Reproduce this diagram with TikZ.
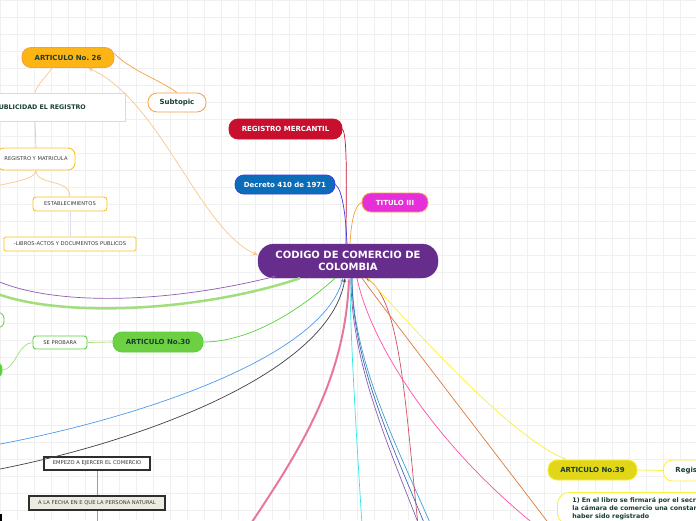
\documentclass[tikz,border=0pt]{standalone}
\usepackage{fontspec}
\setmainfont{DejaVu Sans}
\usetikzlibrary{arrows.meta}
\definecolor{mmText}{HTML}{173F2F}
\definecolor{mmGray}{HTML}{3A3A3A}
\definecolor{mmGrid}{HTML}{F0F0F0}
\definecolor{mmOrange}{HTML}{FDB515}
\definecolor{mmOrangeLine}{HTML}{F5A040}
\definecolor{mmOrangeSoft}{HTML}{FBC68C}
\definecolor{mmAmber}{HTML}{FFC21A}
\definecolor{mmPurple}{HTML}{662D8C}
\definecolor{mmCrimson}{HTML}{C8102E}
\definecolor{mmBlue}{HTML}{0B6DB8}
\definecolor{mmViolet}{HTML}{3B3BF0}
\definecolor{mmMagenta}{HTML}{E62FD8}
\definecolor{mmGreen}{HTML}{6DD043}
\definecolor{mmGreenLine}{HTML}{55D13B}
\definecolor{mmGreenSoft}{HTML}{A3DE7E}
\definecolor{mmLilac}{HTML}{8E5BB5}
\definecolor{mmSky}{HTML}{4C9AF0}
\definecolor{mmRose}{HTML}{E8789B}
\definecolor{mmCyan}{HTML}{2EE8E8}
\definecolor{mmSteel}{HTML}{3D6BB3}
\definecolor{mmLightBlue}{HTML}{3FA0D0}
\definecolor{mmRed}{HTML}{D05060}
\definecolor{mmPink}{HTML}{FF4FA8}
\definecolor{mmBrown}{HTML}{D97B3E}
\definecolor{mmYellow}{HTML}{F8F03A}
\definecolor{mmOlive}{HTML}{E2D619}
\definecolor{mmBeige}{HTML}{EDEAE0}
\definecolor{mmLavender}{HTML}{E2DAEE}
\tikzset{
  topic/.style={rectangle, rounded corners=9pt, draw, line width=0.8pt, align=center, inner sep=0pt, minimum height=20pt, text=mmText, font=\bfseries\fontsize{7}{8}\selectfont},
  central/.style={rectangle, rounded corners=16pt, fill=mmPurple, draw=mmPurple, text=white, align=center, inner sep=0pt, minimum width=180pt, minimum height=34pt, font=\bfseries\fontsize{10}{12}\selectfont},
  smallbox/.style={rectangle, rounded corners=3pt, draw, line width=0.9pt, fill=white, inner sep=0pt, minimum height=14pt, text=mmGray, font=\fontsize{5.2}{6}\selectfont},
  link/.style={line width=0.7pt},
  tip/.style={-{Stealth[length=4pt,width=3pt]}}
}
\begin{document}
\begin{tikzpicture}[x=1pt, y=-1pt]
  \fill[white] (0,0) rectangle (696,520);
  \useasboundingbox (0,0) rectangle (696,520);
  \foreach \gx in {0,17,...,696} \draw[mmGrid, line width=0.5pt] (\gx,0) -- (\gx,520);
  \foreach \gy in {0,17,...,520} \draw[mmGrid, line width=0.5pt] (0,\gy) -- (696,\gy);

  % left branch
  \node[topic, fill=mmOrange, draw=mmOrangeLine, minimum width=92pt] (art26) at (68,57.5) {ARTICULO No.\ 26};
  \node[rectangle, draw=mmAmber!60, line width=0.9pt, fill=white, text=mmText, font=\bfseries\fontsize{6.3}{7}\selectfont, minimum width=171pt, minimum height=28pt, inner sep=0pt] (publ) at (40,107) {PUBLICIDAD EL REGISTRO};
  \node[topic, fill=white, draw=mmOrangeLine, minimum width=58pt, minimum height=19pt] (subt) at (177,102.5) {Subtopic};
  \node[smallbox, draw=mmAmber, rounded corners=7pt, minimum width=78pt, minimum height=22pt] (regm) at (36,159) {REGISTRO Y MATRICULA};
  \node[smallbox, draw=mmAmber, minimum width=74pt] (estab) at (70,204) {ESTABLECIMIENTOS};
  \node[smallbox, draw=mmAmber, rounded corners=1.5pt, minimum width=132pt] (libros) at (70,244) {-LIBROS-ACTOS Y DOCUMENTOS PUBLICOS};
  \coordinate (regmLeft) at (-20,190);

  % center and top
  \node[central] (codigo) at (348,261) {CODIGO DE COMERCIO DE\\COLOMBIA};
  \node[topic, fill=mmCrimson, draw=mmCrimson, text=white, minimum width=113pt] (merc) at (285.5,129) {REGISTRO MERCANTIL};
  \node[topic, fill=mmBlue, draw=mmViolet, text=white, minimum width=100pt, minimum height=19pt] (decreto) at (285,184.5) {Decreto 410 de 1971};
  \node[topic, fill=mmMagenta, draw=mmOrangeLine, text=white, minimum width=66pt, minimum height=19pt] (titulo) at (395,202.5) {TITULO III};

  % green branch
  \node[topic, fill=white, draw=mmGreenLine, minimum width=48pt, minimum height=15pt, rounded corners=6pt] (gleft) at (-20,320) {};
  \node[topic, fill=mmGreenLine, draw=mmGreen, minimum width=48pt, minimum height=15pt, rounded corners=6pt] (gfill) at (-22,370) {};
  \node[smallbox, draw=mmGreenLine, minimum width=54pt, minimum height=13pt] (sepro) at (60,342.5) {SE PROBARA};
  \node[topic, fill=mmGreen, draw=mmGreenLine, minimum width=90pt] (art30) at (158,342) {ARTICULO No.30};

  % bottom left
  \node[smallbox, draw=mmGray!80!black, rounded corners=0pt, line width=1.2pt, minimum width=106pt, minimum height=13pt] (empezo) at (97,463.5) {EMPEZO A EJERCER EL COMERCIO};
  \node[smallbox, fill=mmBeige, draw=mmGray!80!black, rounded corners=0pt, line width=1.2pt, minimum width=136pt, minimum height=14pt] (fecha) at (97,503) {A LA FECHA EN E QUE LA PERSONA NATURAL};
  \node[smallbox, draw=black, rounded corners=0pt, line width=1.2pt, minimum width=20pt, minimum height=14pt] (bnode) at (-9,522) {};
  \coordinate (fechaDown) at (97,530);

  % right bottom
  \node[topic, fill=mmOlive, draw=mmYellow, minimum width=89pt] (art39) at (592.5,470) {ARTICULO No.39};
  \node[topic, fill=white, draw=mmYellow, anchor=west, minimum width=84pt, minimum height=21pt, text width=60pt, align=left] (regis) at (663,470.5) {Registro};
  \node[rectangle, rounded corners=12pt, draw=mmYellow, line width=0.8pt, fill=white, anchor=north west, inner xsep=15pt, inner ysep=5pt, align=left, text=mmText, font=\bfseries\fontsize{6.3}{8}\selectfont] (libro1) at (557,492) {1) En el libro se firmará por el secretario de\\la cámara de comercio una constancia de\\haber sido registrado};

  % off-picture ends
  \coordinate (lilacEnd) at (-5,280);
  \coordinate (greenEnd) at (-5,293);
  \coordinate (skyEnd) at (-5,445);
  \coordinate (blackEnd) at (-5,470);
  \coordinate (roseEnd) at (250,525);
  \coordinate (cyanEnd) at (362,525);
  \coordinate (steelEnd) at (425,525);
  \coordinate (lilacLow) at (419,525);
  \coordinate (lblueEnd) at (431,525);
  \coordinate (redEnd) at (418,525);
  \coordinate (pinkEnd) at (535,525);
  \coordinate (brownEnd) at (550,525);

  % connectors of the left branch
  \draw[link, mmOrangeSoft] ([xshift=-16pt]art26.south) .. controls (45,78) and (37,85) .. ([xshift=-5pt]publ.north);
  \draw[link, mmOrangeSoft] ([xshift=-5pt]publ.south) -- (regm.north);
  \draw[link, mmOrangeSoft] (regm.south) .. controls (36,180) and (10,182) .. (regmLeft);
  \draw[link, mmOrangeSoft] (regm.south) .. controls (36,186) and (70,178) .. (estab.north);
  \draw[link, mmLavender] (estab.south) -- (libros.north);
  \draw[link, mmOrangeLine] (subt.north) .. controls (160,80) and (130,70) .. ([yshift=4pt]art26.east);
  \draw[link, mmOrangeSoft, {Stealth[length=5pt,width=4pt]}-{Stealth[length=5pt,width=4pt]}] ([xshift=20pt]art26.south) .. controls (160,100) and (200,230) .. ([yshift=6pt]codigo.west);

  % connectors from the top
  \draw[link, mmCrimson] (merc.east) .. controls (348,135) and (346,200) .. ([xshift=-2pt]codigo.north);
  \draw[link, mmViolet] (decreto.east) .. controls (343,190) and (346,220) .. ([xshift=-1pt]codigo.north);
  \draw[link, mmOrangeLine] (titulo.west) .. controls (354,205) and (351,225) .. ([xshift=2pt]codigo.north);

  % connectors from the left
  \draw[link, mmLilac, tip] (lilacEnd) .. controls (50,305) and (160,305) .. ([xshift=18pt,yshift=2pt]codigo.south west);
  \draw[mmGreenSoft, line width=2.5pt] (greenEnd) .. controls (60,318) and (200,312) .. ([xshift=-48pt]codigo.south);
  \draw[link, mmGreenSoft] (sepro.west) .. controls (18,343) and (15,370) .. (gfill.east);
  \draw[link, mmGreenSoft] (sepro.east) -- (art30.west);
  \draw[link, mmGreenLine] (art30.east) .. controls (250,342) and (300,310) .. ([xshift=-13pt]codigo.south);
  \draw[link, mmSky, tip] (skyEnd) .. controls (130,420) and (320,360) .. ([xshift=-5pt]codigo.south);
  \draw[link, black!75, tip] (blackEnd) .. controls (150,440) and (330,370) .. ([xshift=-3pt]codigo.south);
  \draw[link, mmGray!50] (empezo.south) -- (fecha.north);
  \draw[link, mmGray!50] (fecha.south) -- (fechaDown);

  % connectors from below
  \draw[mmRose, line width=2pt, tip] (roseEnd) .. controls (300,450) and (345,380) .. ([xshift=1pt]codigo.south);
  \draw[link, mmCyan] (cyanEnd) .. controls (356,430) and (350,330) .. ([xshift=2pt]codigo.south);
  \draw[link, mmLilac] (lilacLow) .. controls (386,440) and (351,360) .. ([xshift=3pt]codigo.south);
  \draw[link, mmLightBlue] (lblueEnd) .. controls (394,440) and (353,360) .. ([xshift=4pt]codigo.south);
  \draw[link, mmSteel] (steelEnd) .. controls (390,440) and (352,360) .. ([xshift=4pt]codigo.south);
  \draw[link, mmRed, tip] (redEnd) .. controls (405,400) and (400,300) .. ([xshift=18pt]codigo.south);
  \draw[link, mmPink] (pinkEnd) .. controls (430,440) and (370,340) .. ([xshift=9pt]codigo.south);
  \draw[link, mmBrown] (brownEnd) .. controls (470,420) and (400,330) .. ([xshift=14pt]codigo.south);
  \draw[link, mmYellow, tip] ([xshift=20pt]codigo.south) .. controls (450,370) and (520,440) .. ([xshift=19pt]art39.north west);
  \draw[link, mmYellow] (art39.east) -- (regis.west);
\end{tikzpicture}
\end{document}
